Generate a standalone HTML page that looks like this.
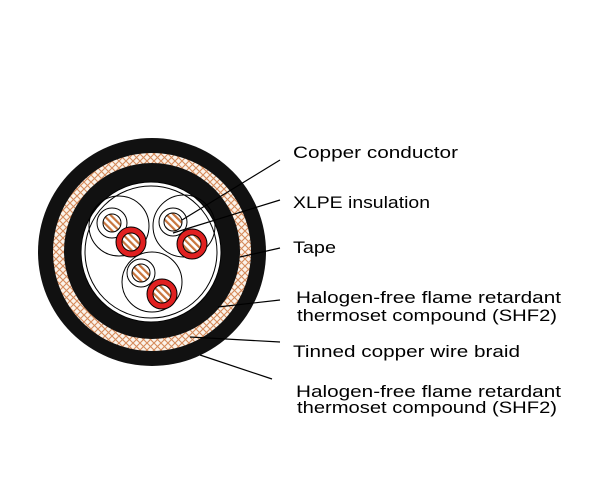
<!DOCTYPE html>
<html><head><style>body{margin:0;background:#fff}svg{display:block}</style></head><body>
<svg width="600" height="500" xmlns="http://www.w3.org/2000/svg">
<defs>
<pattern id="br" width="7" height="7" patternUnits="userSpaceOnUse">
<rect width="7" height="7" fill="#fbf3ea"/>
<path d="M0 0L7 7M7 0L0 7" stroke="#d58a5a" stroke-width="1.1"/>
</pattern>
<pattern id="cu" width="5" height="5" patternUnits="userSpaceOnUse" patternTransform="rotate(-45)">
<rect width="5" height="5" fill="#fff"/>
<rect width="2.2" height="5" fill="#c8743c"/>
</pattern>
</defs>
<circle cx="152" cy="252" r="114" fill="#111"/>
<circle cx="152" cy="252" r="99" fill="url(#br)"/>
<circle cx="152" cy="251" r="88" fill="#111"/>
<circle cx="151" cy="252" r="70" fill="#fff" stroke="#000" stroke-width="1"/>
<circle cx="151" cy="252" r="66" fill="none" stroke="#000" stroke-width="1"/>
<g fill="none" stroke="#000" stroke-width="1">
<circle cx="119" cy="226" r="30"/>
<circle cx="184" cy="226" r="31"/>
<circle cx="152" cy="282" r="30"/>
</g>
<g stroke="#000" stroke-width="1">
<circle cx="112" cy="223" r="15" fill="#fff"/><circle cx="112" cy="223" r="9" fill="url(#cu)"/>
<circle cx="173" cy="222" r="14" fill="#fff"/><circle cx="173" cy="222" r="9" fill="url(#cu)"/>
<circle cx="141" cy="273" r="14" fill="#fff"/><circle cx="141" cy="273" r="9" fill="url(#cu)"/>
<circle cx="131" cy="242" r="15" fill="#e02020"/><circle cx="131" cy="242" r="9" fill="url(#cu)"/>
<circle cx="192" cy="244" r="15" fill="#e02020"/><circle cx="192" cy="244" r="9" fill="url(#cu)"/>
<circle cx="162" cy="294" r="15" fill="#e02020"/><circle cx="162" cy="294" r="9" fill="url(#cu)"/>
</g>
<g stroke="#000" stroke-width="1.2" fill="none">
<path d="M280 160L182 220"/>
<path d="M280 200L173 233"/>
<path d="M280 248L240 257"/>
<path d="M280 300L218 307"/>
<path d="M280 342L190 337"/>
<path d="M272 379L200 355"/>
</g>
<g font-family="Liberation Sans, sans-serif" font-size="17" fill="#000">
<text x="293" y="158" textLength="165" lengthAdjust="spacingAndGlyphs">Copper conductor</text>
<text x="293" y="208" textLength="137" lengthAdjust="spacingAndGlyphs">XLPE insulation</text>
<text x="293" y="253" textLength="43" lengthAdjust="spacingAndGlyphs">Tape</text>
<text x="296" y="303" textLength="265" lengthAdjust="spacingAndGlyphs">Halogen-free flame retardant</text>
<text x="297" y="321" textLength="260" lengthAdjust="spacingAndGlyphs">thermoset compound (SHF2)</text>
<text x="293" y="357" textLength="227" lengthAdjust="spacingAndGlyphs">Tinned copper wire braid</text>
<text x="296" y="397" textLength="265" lengthAdjust="spacingAndGlyphs">Halogen-free flame retardant</text>
<text x="297" y="413" textLength="260" lengthAdjust="spacingAndGlyphs">thermoset compound (SHF2)</text>
</g>
</svg>
</body></html>
